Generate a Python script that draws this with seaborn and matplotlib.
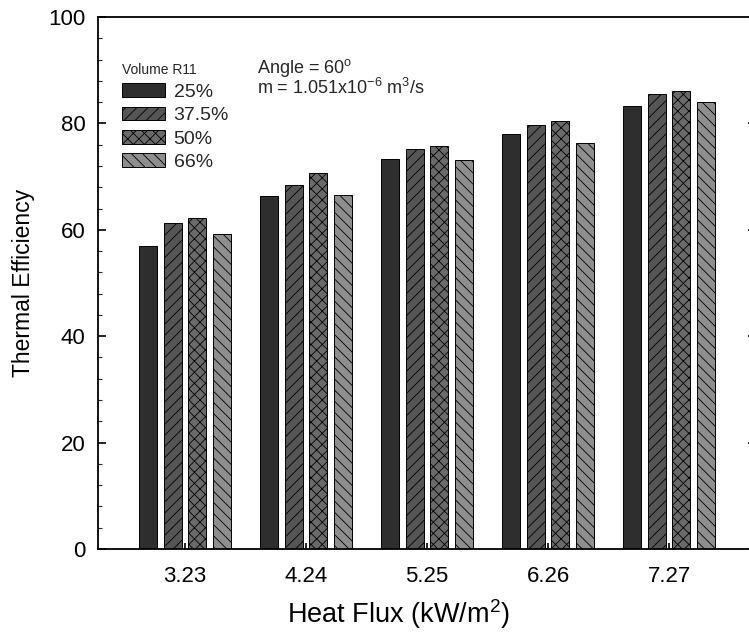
import numpy as np
import pandas as pd
import matplotlib
matplotlib.use("Agg")
import matplotlib.pyplot as plt
import seaborn as sns

heat_flux = ["3.23", "4.24", "5.25", "6.26", "7.27"]
volumes = ["25%", "37.5%", "50%", "66%"]
eff_25 = [57.0, 66.3, 73.4, 78.0, 83.3]
eff_375 = [61.2, 68.4, 75.2, 79.7, 85.5]
eff_50 = [62.2, 70.6, 75.8, 80.4, 86.1]
eff_66 = [59.2, 66.5, 73.2, 76.3, 84.0]

sns.set_theme(style="white")
plt.rcParams["font.family"] = ["Liberation Sans", "DejaVu Sans"]
plt.rcParams["mathtext.fontset"] = "custom"
plt.rcParams["mathtext.rm"] = "Liberation Sans"
plt.rcParams["mathtext.it"] = "Liberation Sans:italic"
plt.rcParams["mathtext.bf"] = "Liberation Sans:bold"
plt.rcParams["hatch.linewidth"] = 0.6
plt.rcParams["hatch.color"] = "black"

rows = []
for v, vals in zip(volumes, [eff_25, eff_375, eff_50, eff_66]):
    for h, e in zip(heat_flux, vals):
        rows.append({"Heat Flux": h, "Volume": v, "Efficiency": e})
df = pd.DataFrame(rows)

fills = ["#2e2e2e", "#555555", "#6a6a6a", "#8e8e8e"]
hatches = ["", "///", "xxx", "\\\\\\"]

W, H = 749, 632
fig = plt.figure(figsize=(W / 100, H / 100), dpi=100)
ax = fig.add_axes([98 / W, 1 - 549 / H, (756 - 98) / W, (549 - 17) / H])

sns.barplot(data=df, x="Heat Flux", y="Efficiency", hue="Volume",
            order=heat_flux, hue_order=volumes, palette=fills,
            width=0.81, gap=0.26, saturation=1, legend=False,
            edgecolor="black", linewidth=0.7, ax=ax)

for cont, hatch in zip(ax.containers, hatches):
    for p in cont:
        p.set_hatch(hatch)

ax.set_xlim(-0.719, 4.719)
ax.set_ylim(0, 100)
ax.set_yticks([0, 20, 40, 60, 80, 100])
ax.yaxis.set_minor_locator(matplotlib.ticker.MultipleLocator(4))

for s in ax.spines.values():
    s.set_linewidth(1.3)
    s.set_color("black")

ax.tick_params(axis="y", which="major", direction="in", length=5.5, width=1.2,
               left=True, right=True, labelsize=16, pad=9, colors="black")
ax.tick_params(axis="y", which="minor", direction="in", length=3, width=0.8,
               left=True, right=True)
ax.tick_params(axis="x", which="major", direction="in", length=4, width=1.2,
               bottom=True, top=False, labelsize=16, pad=12, colors="black")

ax.set_xlabel("Heat Flux (kW/m$^2$)", fontsize=19.5, color="black")
ax.xaxis.set_label_coords((398 - 98) / 658, -(614 - 549) / 532)
ax.xaxis.label.set_va("center")
ax.set_ylabel("Thermal Efficiency", fontsize=16.5, color="black")
ax.yaxis.set_label_coords(-(98 - 24) / 658, 0.5)
ax.yaxis.label.set_va("center")

leg = ax.legend(handles=list(ax.containers), labels=volumes, title="Volume R11",
                loc="upper left", bbox_to_anchor=(0.019, 0.935), frameon=False,
                fontsize=14, title_fontsize=10, handlelength=2.2,
                handleheight=0.7, handletextpad=0.45, labelspacing=0.3,
                borderpad=0.1, alignment="left")

fig.text(257 / W, 1 - 68 / H, r"Angle = 60$^\mathregular{o}$", fontsize=13,
         va="center", ha="left")
fig.text(257 / W, 1 - 88 / H, r"m = 1.051x10$^{-6}$ m$^3$/s", fontsize=13,
         va="center", ha="left")

fig.savefig("out.png", dpi=100)
